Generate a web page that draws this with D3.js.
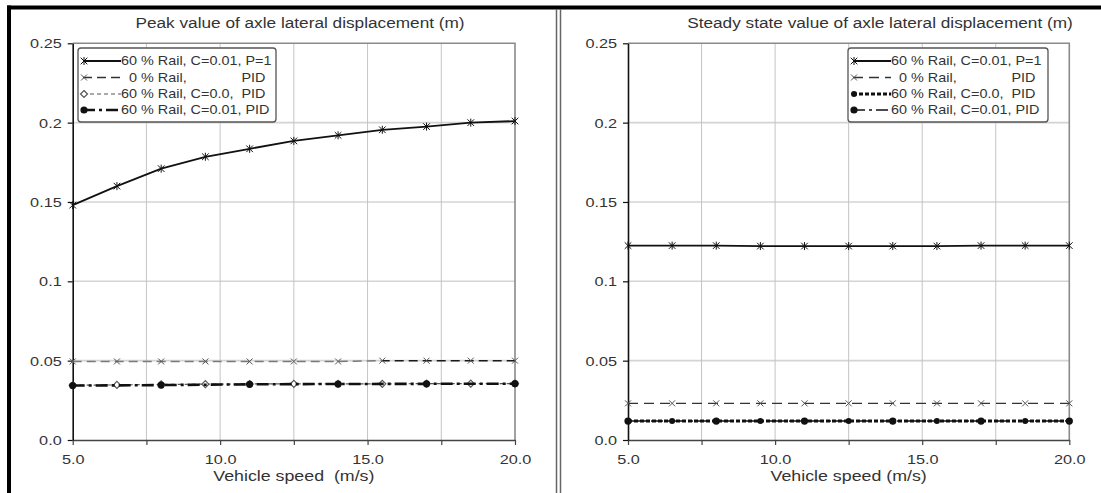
<!DOCTYPE html>
<html><head><meta charset="utf-8">
<script src="https://cdn.jsdelivr.net/npm/d3@7"></script>
<style>
body{margin:0;background:#fff}
svg{display:block}
text{font-family:"Liberation Sans",Arial,sans-serif;fill:#333}
</style>
</head><body>
<svg id="c" width="1101" height="493"></svg>
<script>
// ---------- data ----------
const speeds = [5, 6.5, 8, 9.5, 11, 12.5, 14, 15.5, 17, 18.5, 20];
const speedsCoarse = [5, 8, 11, 14, 17, 20];
const xTickValues = [5, 7.5, 10, 12.5, 15, 17.5, 20];
const xTickLabels = ["5.0", "", "10.0", "", "15.0", "", "20.0"];
const yTickValues = [0, 0.05, 0.1, 0.15, 0.2, 0.25];
const yTickLabels = ["0.0", "0.05", "0.1", "0.15", "0.2", "0.25"];
const titles = ["Peak value of axle lateral displacement (m)", "Steady state value of axle lateral displacement (m)"];
const xAxisTitles = ["Vehicle speed  (m/s)", "Vehicle speed (m/s)"];
const legendLabels = ["60 % Rail, C=0.01, P=1", "0 % Rail,", "60 % Rail, C=0.0,  PID", "60 % Rail, C=0.01, PID"];
const legendTail = ["", "PID", "", ""];

// peak values
const peakRail60P1   = [0.148, 0.160, 0.171, 0.1785, 0.1835, 0.1885, 0.192, 0.1955, 0.1975, 0.200, 0.201];
const peakRail0PID   = [0.0495, 0.0495, 0.0495, 0.0495, 0.0495, 0.0495, 0.0495, 0.0500, 0.0500, 0.0500, 0.0500];
const peakRail60C0   = [0.0345, 0.0347, 0.0350, 0.0352, 0.0353, 0.0354, 0.0354, 0.0354, 0.0355, 0.0355, 0.0355];
const peakRail60C001 = [0.0343, 0.0346, 0.0351, 0.0353, 0.0354, 0.0355];
// steady state values
const steadyRail60P1   = [0.1225, 0.1225, 0.1225, 0.1222, 0.1222, 0.1222, 0.1222, 0.1222, 0.1225, 0.1225, 0.1225];
const steadyRail0PID   = [0.0231, 0.0231, 0.0231, 0.0231, 0.0231, 0.0231, 0.0231, 0.0231, 0.0231, 0.0231, 0.0231];
const steadyRail60C0   = [0.0119, 0.0119, 0.0119, 0.0119, 0.0119, 0.0119, 0.0119, 0.0119, 0.0119, 0.0119, 0.0119];
const steadyRail60C001 = [0.0119, 0.0119, 0.0119, 0.0119, 0.0119, 0.0119];

// ---------- layout ----------
const svg = d3.select("#c");
const PY0 = 440, PY1 = 43.3;
const SX_TICK = 1.25, SX_TITLE = 1.23, SX_AX = 1.27, SX_LEG = 1.2;

const defs = svg.append("defs");

const leftStyles = [
  {stroke:"#111", w:1.8, dash:null, marker:"star"},
  {stroke:"url(#fadeDash)", legendStroke:"#333", w:1.5, dash:"9,5", marker:"cross"},
  {stroke:"#555", w:1.2, dash:"4,3", marker:"diamond"},
  {stroke:"#111", w:2.6, dash:"12,4,3,4", marker:"dot"}
];
const rightStyles = [
  {stroke:"#111", w:1.8, dash:null, marker:"star"},
  {stroke:"#333", w:1.4, dash:"10,6", marker:"cross"},
  {stroke:"#111", w:3.0, dash:"4,2", marker:"dotSmall"},
  {stroke:"#111", w:1.5, dash:"12,4,3,4", marker:"dot"}
];

const panels = [
  {title:titles[0], xTitle:xAxisTitles[0], x0:72.7, x1:515, titleX:300,
   legend:{x:78, y:48, w:198, h:74},
   series:[{x:speeds,y:peakRail60P1},{x:speeds,y:peakRail0PID},{x:speeds,y:peakRail60C0},{x:speedsCoarse,y:peakRail60C001}],
   styles:leftStyles},
  {title:titles[1], xTitle:xAxisTitles[1], x0:628, x1:1069.3, titleX:880,
   legend:{x:848, y:48, w:200, h:74},
   series:[{x:speeds,y:steadyRail60P1},{x:speeds,y:steadyRail0PID},{x:speeds,y:steadyRail60C0},{x:speedsCoarse,y:steadyRail60C001}],
   styles:rightStyles}
];

function drawMarker(g, type, x, y) {
  if (type === "star") {
    g.append("path").attr("d", `M${x-3.3},${y-3.3}L${x+3.3},${y+3.3}M${x-3.3},${y+3.3}L${x+3.3},${y-3.3}M${x},${y-4}L${x},${y+4}`)
      .attr("stroke", "#111").attr("stroke-width", 1).attr("fill", "none");
  } else if (type === "cross") {
    g.append("path").attr("d", `M${x-3},${y-3}L${x+3},${y+3}M${x-3},${y+3}L${x+3},${y-3}`)
      .attr("stroke", "#555").attr("stroke-width", 1).attr("fill", "none");
  } else if (type === "diamond") {
    g.append("path").attr("d", `M${x},${y-3.5}L${x+3.5},${y}L${x},${y+3.5}L${x-3.5},${y}Z`)
      .attr("stroke", "#555").attr("stroke-width", 1.2).attr("fill", "#fff");
  } else if (type === "dot") {
    g.append("circle").attr("cx", x).attr("cy", y).attr("r", 3.6).attr("fill", "#111");
  } else if (type === "dotSmall") {
    g.append("circle").attr("cx", x).attr("cy", y).attr("r", 3).attr("fill", "#111");
  }
}

function stretchText(sel, sx) {
  sel.each(function() {
    const t = d3.select(this);
    const x = +t.attr("x") || 0;
    t.attr("x", x / sx).attr("transform", (t.attr("transform") || "") + ` scale(${sx},1)`);
  });
}

panels.forEach((p, pi) => {
  const x = d3.scaleLinear().domain([5, 20]).range([p.x0, p.x1]);
  const y = d3.scaleLinear().domain([0, 0.25]).range([PY0, PY1]);
  const g = svg.append("g");

  if (pi === 0) {
    const lgd = defs.append("linearGradient").attr("id", "fadeDash").attr("gradientUnits", "userSpaceOnUse")
      .attr("x1", x(5)).attr("x2", x(20)).attr("y1", 0).attr("y2", 0);
    const f = (x(15.5) - x(5)) / (x(20) - x(5));
    lgd.append("stop").attr("offset", 0).attr("stop-color", "#7a7a7a");
    lgd.append("stop").attr("offset", f).attr("stop-color", "#7a7a7a");
    lgd.append("stop").attr("offset", f + 0.001).attr("stop-color", "#1a1a1a");
    lgd.append("stop").attr("offset", 1).attr("stop-color", "#1a1a1a");
  }

  // grid
  g.selectAll(".hg").data(yTickValues.filter(v => v > 0 && v < 0.25)).enter().append("line")
    .attr("x1", p.x0).attr("x2", p.x1).attr("y1", d => y(d)).attr("y2", d => y(d))
    .attr("stroke", "#d4d4d4").attr("stroke-width", 1.6);
  g.selectAll(".vg").data(xTickValues.filter(v => v > 5 && v < 20)).enter().append("line")
    .attr("x1", d => x(d)).attr("x2", d => x(d)).attr("y1", PY1).attr("y2", PY0)
    .attr("stroke", "#c4c4c4").attr("stroke-width", 1);

  // frame top/right
  g.append("path").attr("d", `M${p.x0},${PY1}H${p.x1}V${PY0}`).attr("fill", "none")
    .attr("stroke", "#8a8a8a").attr("stroke-width", 1.6);

  // x axis
  const xa = g.append("g").attr("transform", `translate(0,${PY0})`)
    .call(d3.axisBottom(x).tickValues(xTickValues).tickSize(5).tickSizeOuter(0)
      .tickFormat((d, i) => xTickLabels[i]));
  xa.select(".domain").attr("stroke", "#444").attr("stroke-width", 1.5);
  xa.selectAll(".tick line").attr("stroke", "#444").attr("stroke-width", 1.2);
  xa.selectAll("text").attr("y", 15).attr("dy", "0.71em").style("font-size", "13px")
    .style("font-family", "'Liberation Sans',Arial,sans-serif").attr("fill", "#333");
  stretchText(xa.selectAll("text"), SX_TICK);

  // y axis
  const ya = g.append("g").attr("transform", `translate(${p.x0},0)`)
    .call(d3.axisLeft(y).tickValues(yTickValues).tickSize(5).tickSizeOuter(0)
      .tickFormat((d, i) => yTickLabels[i]));
  ya.select(".domain").attr("stroke", "#111").attr("stroke-width", 1.6);
  ya.selectAll(".tick line").attr("stroke", "#111").attr("stroke-width", 1.2);
  ya.selectAll("text").attr("x", -11).attr("dy", "0.34em").style("font-size", "13px")
    .style("font-family", "'Liberation Sans',Arial,sans-serif").attr("fill", "#333");
  stretchText(ya.selectAll("text"), SX_TICK);

  // title
  g.append("text").attr("transform", `translate(${p.titleX},28) scale(${SX_TITLE},1)`)
    .attr("text-anchor", "middle").style("font-size", "14px").text(p.title);
  // x axis title
  g.append("text").attr("transform", `translate(${(p.x0 + p.x1) / 2},481) scale(${SX_AX},1)`)
    .attr("text-anchor", "middle").style("font-size", "14px").style("white-space", "pre").text(p.xTitle);

  // series
  const order = [1, 2, 3, 0];
  order.forEach(i => {
    const s = p.series[i], st = p.styles[i];
    const pts = s.x.map((v, k) => [v, s.y[k]]);
    g.append("path").datum(pts)
      .attr("d", d3.line().x(d => x(d[0])).y(d => y(d[1])))
      .attr("fill", "none").attr("stroke", st.stroke).attr("stroke-width", st.w)
      .attr("stroke-dasharray", st.dash);
    pts.forEach(d => drawMarker(g, st.marker, x(d[0]), y(d[1])));
  });

  // legend
  const L = p.legend;
  const lg = g.append("g");
  lg.append("rect").attr("x", L.x).attr("y", L.y).attr("width", L.w).attr("height", L.h)
    .attr("rx", 3).attr("fill", "#fff").attr("stroke", "#555").attr("stroke-width", 1.3);
  const rowY = [L.y + 13, L.y + 29.5, L.y + 46, L.y + 62];
  const sx0 = L.x + 5, sx1 = L.x + 43, tx = L.x + 43;
  const meas = lg.append("text").style("font-size", "12px").style("white-space", "pre");
  const mw = s => { meas.text(s); return meas.node().getComputedTextLength() * SX_LEG; };
  const indent = mw("6");
  const tailX = mw("60 % Rail, C=0.0,  ");
  meas.remove();
  legendLabels.forEach((lab, i) => {
    const st = p.styles[i], yy = rowY[i];
    lg.append("line").attr("x1", sx0).attr("x2", sx1).attr("y1", yy).attr("y2", yy)
      .attr("stroke", st.legendStroke || st.stroke).attr("stroke-width", st.w).attr("stroke-dasharray", st.dash);
    drawMarker(lg, st.marker, sx0 + 1, yy);
    const x0t = tx + (legendTail[i] ? indent : 0);
    lg.append("text").attr("transform", `translate(${x0t},${yy + 4.3}) scale(${SX_LEG},1)`)
      .style("font-size", "12px").style("white-space", "pre").text(lab);
    if (legendTail[i]) {
      lg.append("text").attr("transform", `translate(${tx + tailX},${yy + 4.3}) scale(${SX_LEG},1)`)
        .style("font-size", "12px").text(legendTail[i]);
    }
  });
});

// outer borders
svg.append("rect").attr("x", 7).attr("y", 5.5).attr("width", 1094).attr("height", 4).attr("fill", "#000");
svg.append("rect").attr("x", 7).attr("y", 5.5).attr("width", 4).attr("height", 488).attr("fill", "#000");
svg.append("line").attr("x1", 556.5).attr("x2", 556.5).attr("y1", 9).attr("y2", 493).attr("stroke", "#666").attr("stroke-width", 1.5);
svg.append("line").attr("x1", 560.5).attr("x2", 560.5).attr("y1", 9).attr("y2", 493).attr("stroke", "#666").attr("stroke-width", 1.5);
</script>
</body></html>
